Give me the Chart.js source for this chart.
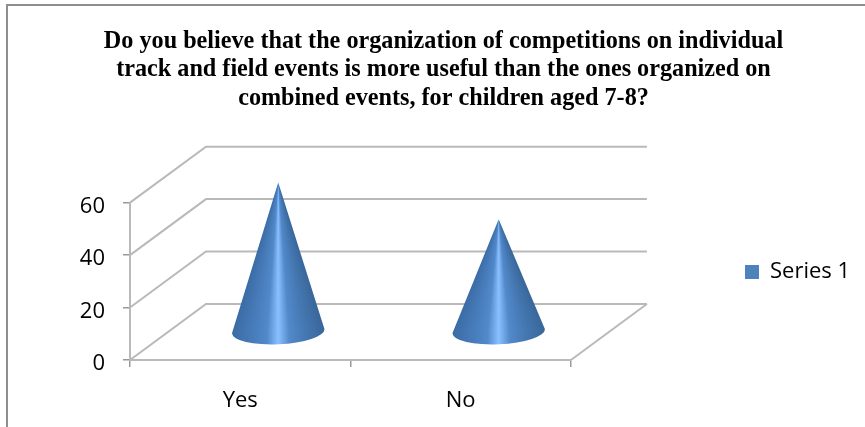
<!DOCTYPE html>
<html>
<head>
<meta charset="utf-8">
<title>Chart</title>
<script src="https://cdn.jsdelivr.net/npm/chart.js@4/dist/chart.umd.js"></script>
<style>
    html, body { margin: 0; padding: 0; background: #fff; overflow: hidden; width: 865px; height: 427px; }
    #frame { position: absolute; left: 6px; top: 4px; width: 873px; height: 430px; border: 2px solid #8e8e8e; }
    #chart { position: absolute; left: -1px; top: -1px; }
</style>
</head>
<body>
<div id="frame"><canvas id="chart" width="873" height="430"></canvas></div>
<script>
const categories = ['Yes', 'No'];
const seriesValues = [57, 43];
const seriesName = 'Series 1';
const titleLines = [
    'Do you believe that the organization of competitions on individual',
    'track and field events is more useful than the ones organized on',
    'combined events, for children aged 7-8?'
];

// Profundidad de la caja 3D
const depthX = 76;
const depthY = -56;
const gridColor = '#b9b9b9';

// Degradado del cono, de izquierda a derecha
const coneStops = [
    [0, '#3a6ba3'], [0.2, '#467aB8'], [0.38, '#5189ca'],
    [0.5, '#8ac0ff'], [0.62, '#5189ca'], [0.82, '#4375ae'], [1, '#39679a']
];

// Controlador de barras que dibuja conos
class ConeController extends Chart.BarController {
    static id = 'cone';
    static defaults = Chart.BarController.defaults;

    draw() {
        const ctx = this.chart.ctx;
        this.getMeta().data.forEach(bar => {
            const cx = bar.x + depthX / 2;
            const baseY = bar.base + depthY / 2;
            const apexY = bar.y + depthY / 2;
            const rx = bar.width / 2;
            const ry = 13;
            const tilt = -0.045;

            ctx.save();
            ctx.beginPath();
            ctx.moveTo(cx, apexY);
            ctx.lineTo(cx + rx, baseY + rx * tilt);
            ctx.ellipse(cx, baseY, rx, ry, tilt, 0, Math.PI);
            ctx.closePath();
            ctx.clip();

            // Una fila por píxel, el degradado se estrecha hacia la punta
            const top = Math.floor(apexY);
            const bottom = Math.ceil(baseY + ry + rx * Math.abs(tilt));
            for (let y = top; y < bottom; y++) {
                const half = Math.max(1, rx * Math.min(1, (y + 0.5 - apexY) / (baseY - apexY)));
                const grad = ctx.createLinearGradient(cx - half, 0, cx + half, 0);
                coneStops.forEach(s => grad.addColorStop(s[0], s[1]));
                ctx.fillStyle = grad;
                ctx.fillRect(cx - rx - 2, y, rx * 2 + 4, 1);
            }
            ctx.restore();
        });
    }
}
Chart.register(ConeController);

// Paredes y suelo de la caja 3D
const boxPlugin = {
    id: 'box3d',
    beforeDatasetsDraw(chart) {
        const { ctx, chartArea: area, scales } = chart;
        ctx.save();
        ctx.strokeStyle = gridColor;
        ctx.lineWidth = 2;
        scales.y.ticks.forEach(tick => {
            const y = scales.y.getPixelForValue(tick.value);
            ctx.beginPath();
            ctx.moveTo(area.left, y);
            ctx.lineTo(area.left + depthX, y + depthY);
            ctx.lineTo(area.right + depthX, y + depthY);
            ctx.stroke();
        });
        ctx.beginPath();
        ctx.moveTo(area.right, area.bottom);
        ctx.lineTo(area.right + depthX, area.bottom + depthY);
        ctx.stroke();
        ctx.restore();
    },
    // La leyenda va separada del área del gráfico y el título centrado en todo el lienzo
    afterLayout(chart) {
        const legend = chart.legend;
        const w = legend.width, h = legend.height;
        legend.left = 728;
        legend.right = legend.left + w;
        legend.top = 267 - h / 2;
        legend.bottom = legend.top + h;
        chart.titleBlock.left = 0;
        chart.titleBlock.right = chart.width;
    }
};

const labelFont = { family: '"Open Sans"', size: 22 };

new Chart(document.getElementById('chart').getContext('2d'), {
    type: 'cone',
    data: {
        labels: categories,
        datasets: [{
            label: seriesName,
            data: seriesValues,
            backgroundColor: '#4f81bd',
            borderWidth: 0,
            barPercentage: 0.42,
            categoryPercentage: 1,
            clip: false
        }]
    },
    plugins: [boxPlugin],
    options: {
        responsive: false,
        animation: false,
        layout: { padding: { left: 0, right: 184, top: 0, bottom: 0 } },
        plugins: {
            tooltip: { enabled: false },
            title: {
                display: true,
                text: titleLines,
                color: '#000',
                font: { family: '"Liberation Serif"', size: 24.2, weight: 'bold', lineHeight: 1.18 },
                padding: { top: 22, bottom: 90 }
            },
            legend: {
                position: 'right',
                labels: { boxWidth: 14, boxHeight: 14, color: '#000', font: labelFont }
            }
        },
        scales: {
            x: {
                afterFit: scale => { scale.height = 75; },
                grid: { drawOnChartArea: false, color: '#999', tickLength: 7, lineWidth: 1.5 },
                border: { color: gridColor, width: 2 },
                ticks: { color: '#000', font: labelFont, padding: 21, maxRotation: 0 }
            },
            y: {
                min: 0,
                max: 60,
                afterFit: scale => { scale.width = 123; },
                grid: { drawOnChartArea: false, color: '#999', tickLength: 7, lineWidth: 1.5 },
                border: { color: gridColor, width: 2 },
                ticks: { stepSize: 20, color: '#000', font: labelFont, padding: 18, labelOffset: 4 }
            }
        }
    }
});
</script>
</body>
</html>
